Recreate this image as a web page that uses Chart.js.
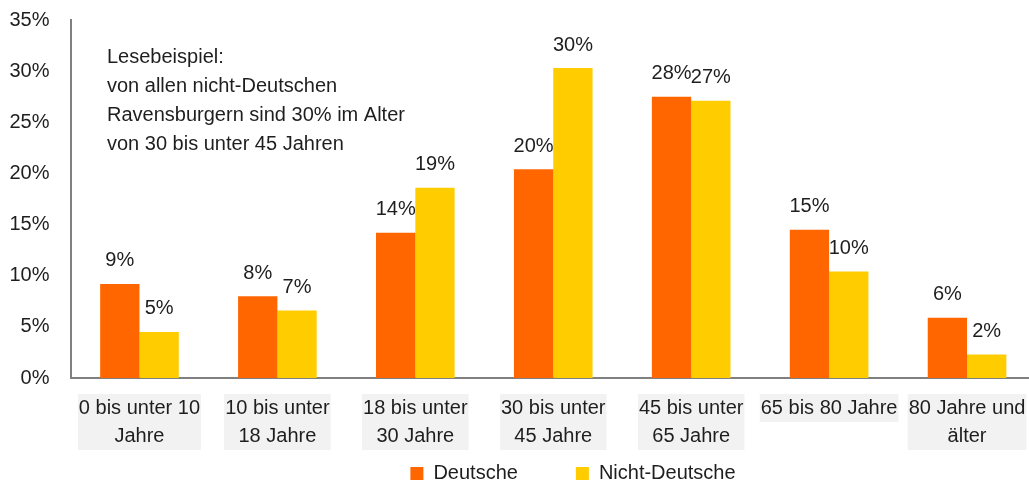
<!DOCTYPE html>
<html>
<head>
<meta charset="utf-8">
<script src="https://cdn.jsdelivr.net/npm/chart.js@4/dist/chart.umd.min.js"></script>
<style>
html,body{margin:0;padding:0;background:#fff;overflow:hidden;}
#wrap{width:1029px;height:486px;overflow:hidden;}
</style>
</head>
<body>
<div id="wrap"><canvas id="c" width="1036" height="486"></canvas></div>
<script>
const categories = [
  ['0 bis unter 10', 'Jahre'],
  ['10 bis unter', '18 Jahre'],
  ['18 bis unter', '30 Jahre'],
  ['30 bis unter', '45 Jahre'],
  ['45 bis unter', '65 Jahre'],
  '65 bis 80 Jahre',
  ['80 Jahre und', 'älter']
];
const deutsche = [9.2, 8.0, 14.2, 20.4, 27.5, 14.5, 5.9];
const nichtDeutsche = [4.5, 6.6, 18.6, 30.3, 27.1, 10.4, 2.3];
const seriesNames = ['Deutsche', 'Nicht-Deutsche'];
const yTicks = [0, 5, 10, 15, 20, 25, 30, 35];
const noteLines = [
  'Lesebeispiel:',
  'von allen nicht-Deutschen',
  'Ravensburgern sind 30% im Alter',
  'von 30 bis unter 45 Jahren'
];

const FONT = '"Liberation Sans", Arial, sans-serif';
const TEXT = '#1e1e1e';

// grey boxes behind the category labels (drawn before the axis draws its labels)
const labelBoxes = {
  id: 'labelBoxes',
  beforeDraw(chart) {
    const sc = chart.scales.x;
    const ctx = chart.ctx;
    const f = Chart.helpers.toFont(sc.options.ticks.font);
    const pad = sc.options.ticks.padding;
    ctx.save();
    ctx.font = f.string;
    ctx.fillStyle = '#f2f2f2';
    chart.data.labels.forEach((lab, i) => {
      const lines = Array.isArray(lab) ? lab : [lab];
      const w = Math.max(...lines.map(l => ctx.measureText(l).width)) + 2;
      const x = sc.getPixelForTick(i);
      const top = sc.top + pad;
      ctx.fillRect(x - w / 2, top, w, lines.length * f.lineHeight);
    });
    ctx.restore();
  }
};

const valueLabels = {
  id: 'valueLabels',
  afterDatasetsDraw(chart) {
    const ctx = chart.ctx;
    ctx.save();
    ctx.font = '20px ' + FONT;
    ctx.fillStyle = TEXT;
    ctx.textAlign = 'center';
    ctx.textBaseline = 'alphabetic';
    chart.data.datasets.forEach((ds, di) => {
      const meta = chart.getDatasetMeta(di);
      meta.data.forEach((bar, i) => {
        ctx.fillText(Math.round(ds.data[i]) + '%', bar.x, bar.y - 17.5);
      });
    });
    ctx.restore();
  }
};

const note = {
  id: 'note',
  afterDraw(chart) {
    const ctx = chart.ctx;
    ctx.save();
    ctx.font = '20px ' + FONT;
    ctx.fillStyle = TEXT;
    ctx.textAlign = 'left';
    ctx.textBaseline = 'alphabetic';
    noteLines.forEach((t, i) => ctx.fillText(t, 107, 63.3 + i * 28.9));
    ctx.restore();
  }
};

const legendPlace = {
  id: 'legendPlace',
  afterLayout(chart) {
    const lg = chart.legend;
    if (!lg) return;
    const dy = 405.5 - lg.top;
    lg.top += dy; lg.bottom += dy;
    lg.left += 55; lg.right += 55;
  }
};

new Chart(document.getElementById('c'), {
  type: 'bar',
  data: {
    labels: categories,
    datasets: [
      { label: seriesNames[0], data: deutsche, backgroundColor: '#FF6600' },
      { label: seriesNames[1], data: nichtDeutsche, backgroundColor: '#FFCC00' }
    ]
  },
  plugins: [labelBoxes, valueLabels, note, legendPlace],
  options: {
    responsive: false,
    animation: false,
    devicePixelRatio: 1,
    layout: { padding: { top: 20, right: 0, left: 0, bottom: -56 } },
    datasets: { bar: { categoryPercentage: 0.57, barPercentage: 1.0 } },
    plugins: {
      tooltip: { enabled: false },
      legend: {
        position: 'bottom',
        labels: {
          boxWidth: 13, boxHeight: 13, padding: 58,
          color: TEXT,
          font: { family: FONT, size: 20 }
        }
      }
    },
    scales: {
      x: {
        grid: { display: false, drawTicks: false },
        border: { display: true, color: '#808080', width: 2 },
        afterFit(s) { s.height = 76; s.paddingLeft = 0; s.paddingRight = 0; },
        ticks: {
          autoSkip: false, maxRotation: 0, minRotation: 0,
          padding: 16,
          color: TEXT,
          font: { family: FONT, size: 20, lineHeight: 1.4 }
        }
      },
      y: {
        min: 0, max: 35,
        grid: { display: false, drawTicks: false },
        border: { display: true, color: '#808080', width: 2 },
        afterFit(s) { s.width = 70.5; s.paddingTop = 0; s.paddingBottom = 0; },
        afterBuildTicks(s) { s.ticks = yTicks.map(v => ({ value: v })); },
        ticks: {
          padding: 21,
          color: TEXT,
          font: { family: FONT, size: 20 },
          callback: v => v + '%'
        }
      }
    }
  }
});
</script>
</body>
</html>
